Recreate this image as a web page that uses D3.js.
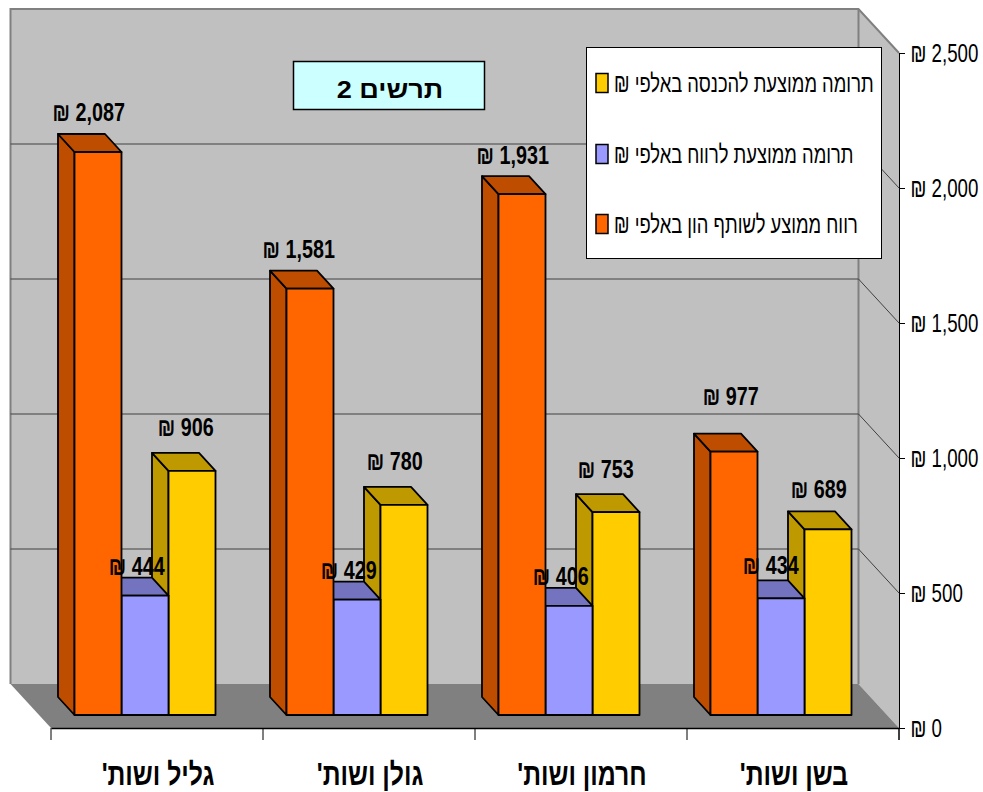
<!DOCTYPE html>
<html lang="he">
<head>
<meta charset="utf-8">
<title>תרשים 2</title>
<script src="https://cdn.jsdelivr.net/npm/d3@7/dist/d3.min.js"></script>
<style>
  html, body { margin: 0; padding: 0; background: #fff; }
  svg { display: block; font-family: "Liberation Sans", Arial, sans-serif; }
</style>
</head>
<body>
<svg id="chart" width="983" height="792"></svg>
<script>
const categories = ["גליל ושות'", "גולן ושות'", "חרמון ושות'", "בשן ושות'"];
const seriesNames = [
  "רווח ממוצע לשותף הון באלפי ₪",
  "תרומה ממוצעת לרווח באלפי ₪",
  "תרומה ממוצעת להכנסה באלפי ₪"
];
const profitPerPartner = [2087, 1581, 1931, 977];
const contributionToProfit = [444, 429, 406, 434];
const contributionToIncome = [906, 780, 753, 689];
const axisTicks = [0, 500, 1000, 1500, 2000, 2500];
const chartTitle = "תרשים 2";

const svg = d3.select("#chart");
const NIS = v => "₪ " + d3.format(",")(v);

// Box geometry: the plot is an oblique projection with a receding floor.
const frontLeft = 51, frontRight = 899, frontBase = 728, frontTop = 53;
const wallDx = 40.5, wallDy = 44;
const barDx = 16.5, barDy = 18, barLift = 13, topLift = 12.5;

const y = d3.scaleLinear().domain([0, 2500]).range([frontBase, frontTop]);
const x = d3.scaleBand().domain(categories).range([frontLeft, frontRight]);
const inner = d3.scaleBand().domain(d3.range(3)).range([23.5, 164.5]);

const faces = [
  { front: "#FF6600", shade: "#BF4D00", values: profitPerPartner },
  { front: "#9999FF", shade: "#7373BF", values: contributionToProfit },
  { front: "#FFCC00", shade: "#BF9900", values: contributionToIncome }
];

// Squeezed text: the chart's lettering is narrow and tall.
function label(parent, px, py, text, o) {
  return parent.append("text")
    .attr("transform", `translate(${px},${py}) scale(${o.sx},1)`)
    .attr("text-anchor", o.anchor || "middle")
    .attr("font-size", o.size)
    .attr("font-weight", o.weight || "normal")
    .attr("direction", o.dir || null)
    .attr("fill", "#000")
    .text(text);
}

const poly = pts => pts.map(p => p.join(",")).join(" ");

// Walls and floor
const bl = frontLeft - wallDx, br = frontRight - wallDx;
const by = v => y(v) - wallDy;
svg.append("polygon")
  .attr("points", poly([[bl, by(2500)], [br, by(2500)], [br, by(0)], [bl, by(0)]]))
  .attr("fill", "#C0C0C0");
svg.append("polygon")
  .attr("points", poly([[br, by(2500)], [frontRight, y(2500)], [frontRight, y(0)], [br, by(0)]]))
  .attr("fill", "#C0C0C0");
svg.append("polygon")
  .attr("points", poly([[bl, by(0)], [br, by(0)], [frontRight, y(0)], [frontLeft, y(0)]]))
  .attr("fill", "#808080");

// Wall outline
svg.append("polyline")
  .attr("points", poly([[bl, by(0)], [bl, by(2500)], [br, by(2500)], [frontRight, y(2500)]]))
  .attr("fill", "none").attr("stroke", "#808080").attr("stroke-width", 2);
svg.append("line")
  .attr("x1", br).attr("x2", br).attr("y1", by(2500)).attr("y2", by(0))
  .attr("stroke", "#808080").attr("stroke-width", 2);

// Gridlines across the back wall and down the side wall
const grid = axisTicks.filter(t => t > 0 && t < 2500);
svg.selectAll(".grid").data(grid).join("polyline")
  .attr("class", "grid")
  .attr("points", t => poly([[bl, by(t)], [br, by(t)], [frontRight, y(t)]]))
  .attr("fill", "none").attr("stroke", "#404040").attr("stroke-width", 1);

// Bars, painted right to left so nearer faces cover the hidden ones
const barWrap = svg.append("g").attr("stroke", "#000").attr("stroke-width", 1.8).attr("stroke-linejoin", "round");
categories.forEach((cat, c) => {
  [2, 1, 0].forEach(s => {
    const f = faces[s], v = f.values[c];
    const x0 = x(cat) + inner(s), x1 = x0 + inner.bandwidth();
    const yB = frontBase - barLift, yT = y(v) - topLift;
    const g = barWrap.append("g");
    g.append("polygon").attr("fill", f.shade)
      .attr("points", poly([[x0 - barDx, yB - barDy], [x0, yB], [x0, yT], [x0 - barDx, yT - barDy]]));
    g.append("polygon").attr("fill", f.shade)
      .attr("points", poly([[x0 - barDx, yT - barDy], [x1 - barDx, yT - barDy], [x1, yT], [x0, yT]]));
    g.append("rect").attr("fill", f.front)
      .attr("x", x0).attr("y", yT).attr("width", x1 - x0).attr("height", yB - yT);
  });
});

// Category axis
const xAxis = svg.append("g").attr("transform", `translate(0,${frontBase})`)
  .call(d3.axisBottom(x).tickSize(0).tickPadding(0));
xAxis.select(".domain").attr("stroke", "#000").attr("stroke-width", 1.5);
xAxis.selectAll(".tick text").remove();
xAxis.selectAll(".edge").data(d3.range(categories.length + 1)).join("line")
  .attr("class", "edge")
  .attr("x1", i => frontLeft + i * x.step()).attr("x2", i => frontLeft + i * x.step())
  .attr("y1", 0).attr("y2", 12).attr("stroke", "#000");
categories.forEach(cat => {
  label(svg, x(cat) + x.bandwidth() / 2 + 1, 785, cat, { sx: 0.8, size: 31, weight: "bold", dir: "rtl" });
});

// Value axis
const yAxis = svg.append("g").attr("transform", `translate(${frontRight},0)`)
  .call(d3.axisRight(y).tickValues(axisTicks).tickSizeOuter(0).tickSize(6).tickFormat(NIS));
yAxis.select(".domain").attr("stroke", "#000");
yAxis.selectAll(".tick line").attr("stroke", "#000");
yAxis.selectAll(".tick text").remove();
axisTicks.forEach(t => {
  label(svg, 910.5, y(t) + 9, NIS(t), { sx: 0.72, size: 26, anchor: "start" });
});
svg.append("line").attr("x1", frontRight).attr("x2", frontRight)
  .attr("y1", frontBase).attr("y2", frontBase + 12).attr("stroke", "#000");

// Data labels: each sits over its bar, with a few nudged to clear their neighbours
const labelLift = [20, 11, 24];
const nudges = {
  "0-0": [-1, -2], "0-1": [-3, -1.5], "0-2": [-1, -1], "0-3": [5, -17],
  "1-0": [0, -0.5], "1-3": [-2, -3.5],
  "2-0": [2, -1.5], "2-1": [-1, -1.5], "2-2": [-2, -0.5], "2-3": [-1, 2.5]
};
faces.forEach((f, s) => {
  f.values.forEach((v, c) => {
    const n = nudges[s + "-" + c] || [0, 0];
    const cx = x(categories[c]) + inner(s) + inner.bandwidth() / 2 - barDx / 2 + n[0];
    const cy = y(v) - barLift - barDy - labelLift[s] + 9 + n[1];
    label(svg, cx, cy, NIS(v), { sx: 0.76, size: 26, weight: "bold" });
  });
});

// Title box
svg.append("rect").attr("x", 293.5).attr("y", 61.5).attr("width", 191).attr("height", 48)
  .attr("fill", "#CCFFFF").attr("stroke", "#000").attr("stroke-width", 1.5);
label(svg, 390, 98, chartTitle, { sx: 1.13, size: 24, weight: "bold" });

// Legend
svg.append("rect").attr("x", 586.5).attr("y", 47.5).attr("width", 295).attr("height", 211)
  .attr("fill", "#fff").attr("stroke", "#000").attr("stroke-width", 1);
const legendOrder = [2, 1, 0];
const legendRows = [83, 154, 224];
legendOrder.forEach((s, i) => {
  const ly = legendRows[i];
  svg.append("rect").attr("x", 596).attr("y", ly - 9.5).attr("width", 12).attr("height", 19)
    .attr("fill", faces[s].front).attr("stroke", "#000").attr("stroke-width", 1.5);
  label(svg, 614, ly + 9, seriesNames[s], { sx: 0.735, size: 25, anchor: "end", dir: "rtl" });
});
</script>
</body>
</html>
